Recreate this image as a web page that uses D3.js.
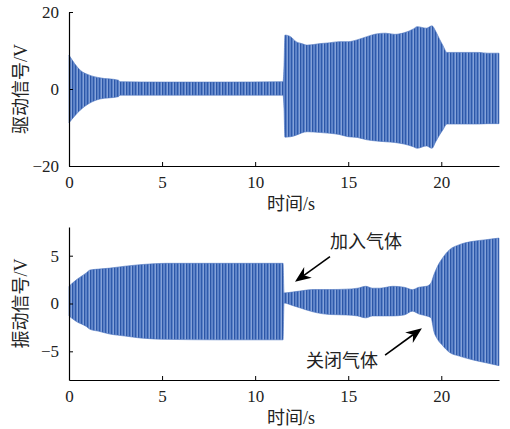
<!DOCTYPE html>
<html>
<head>
<meta charset="utf-8">
<script src="https://cdn.jsdelivr.net/npm/d3@7/dist/d3.min.js"></script>
<style>
  html, body { margin: 0; padding: 0; background: #fff; }
  svg { display: block; }
</style>
</head>
<body>
<svg id="chart" width="510" height="429"></svg>
<script>
// Envelope of the drive signal (upper / lower peak voltage over time)
const driveTime  = [0, 0.6, 1.1, 1.66, 2.65, 2.75, 5, 8, 11.5, 11.55, 11.6, 11.9, 12.2, 12.5, 12.8, 13.5, 14.0, 14.5, 15.0, 15.5, 16.0, 16.5, 17.0, 17.5, 18.0, 18.5, 18.7, 19.2, 19.5, 19.7, 19.9, 20.1, 20.3, 21.0, 22.0, 22.5, 23.1];
const driveUpper = [8.8, 4.9, 3.6, 2.9, 2.3, 1.9, 1.8, 1.8, 1.9, 6.0, 14.0, 13.6, 12.3, 11.8, 11.4, 11.8, 12.0, 12.3, 12.3, 12.8, 13.6, 14.3, 14.5, 14.2, 14.6, 15.6, 16.2, 15.8, 16.4, 15.0, 13.0, 11.2, 9.5, 9.5, 9.5, 9.3, 9.3];
const driveLower = [-8.8, -5.5, -3.7, -2.6, -2.0, -1.6, -1.6, -1.6, -1.6, -5.0, -12.5, -12.4, -12.0, -11.4, -11.1, -11.3, -11.5, -11.8, -12.4, -12.6, -13.2, -13.5, -13.7, -13.9, -14.3, -15.0, -15.4, -14.8, -15.4, -13.7, -12.0, -10.5, -9.1, -9.1, -9.1, -9.0, -9.0];

// Envelope of the vibration signal
const vibTime  = [0, 0.41, 0.93, 1.13, 1.6, 2.2, 3.0, 3.8, 4.5, 5.2, 8, 11.5, 11.55, 12.0, 12.4, 13.1, 14.0, 14.9, 15.5, 15.95, 16.3, 16.7, 17.4, 18.0, 18.45, 18.8, 19.2, 19.45, 19.6, 19.8, 20.07, 20.43, 20.97, 21.7, 22.4, 23.1];
const vibUpper = [1.8, 2.5, 3.2, 3.5, 3.6, 3.7, 3.9, 4.06, 4.15, 4.2, 4.2, 4.2, 1.1, 1.2, 1.3, 1.46, 1.46, 1.5, 1.6, 1.8, 1.6, 1.6, 1.8, 1.7, 1.45, 1.7, 1.8, 2.15, 3.0, 3.9, 4.76, 5.6, 6.15, 6.5, 6.67, 6.84];
const vibLower = [-1.3, -1.9, -2.4, -2.7, -2.9, -3.2, -3.4, -3.6, -3.7, -3.75, -3.8, -3.8, 0.05, -0.2, -0.45, -0.87, -1.15, -1.2, -1.3, -1.5, -1.3, -1.3, -1.3, -1.2, -0.8, -1.1, -1.3, -1.5, -2.9, -3.75, -4.4, -5.1, -5.5, -5.9, -6.2, -6.5];

// Axis ticks and labels
const xTicks = [0, 5, 10, 15, 20];
const driveTicks = [-20, 0, 20];
const vibTicks = [-5, 0, 5];
const xLabel = "时间/s";
const driveLabel = "驱动信号/V";
const vibLabel = "振动信号/V";

// Annotations on the vibration panel (data coordinates)
const notes = [
  { text: "加入气体", tx: 14.02, ty: 6.38, from: [14.02, 4.9], to: [12.14, 2.28] },
  { text: "关闭气体", tx: 12.73, ty: -6.01, from: [16.98, -5.39], to: [18.96, -2.59] }
];

const svg = d3.select("#chart");
const latin = "'Liberation Serif', 'Times New Roman', serif";
const mixed = "'Liberation Serif', 'Noto Sans CJK SC', serif";

// striped fill that mimics the dense oscillation
const defs = svg.append("defs");
const pat = defs.append("pattern")
  .attr("id", "osc")
  .attr("patternUnits", "userSpaceOnUse")
  .attr("width", 6).attr("height", 8);
pat.append("rect").attr("width", 6).attr("height", 8).attr("fill", "#5F85CA");
pat.append("rect").attr("x", 0).attr("width", 1.1).attr("height", 8).attr("fill", "#2B56A7");
pat.append("rect").attr("x", 3).attr("width", 1.1).attr("height", 8).attr("fill", "#2F5AAB");
pat.append("rect").attr("x", 5).attr("width", 0.6).attr("height", 8).attr("fill", "#9FB6E2");

const x = d3.scaleLinear().domain([0, 23.1]).range([69, 499]);

function panel(opts) {
  const y = d3.scaleLinear().domain(opts.domain).range(opts.range);
  const g = svg.append("g");
  const rows = opts.t.map((t, i) => ({ t, hi: opts.hi[i], lo: opts.lo[i] }));

  const area = d3.area()
    .curve(d3.curveMonotoneX)
    .x(d => x(d.t))
    .y0(d => y(d.lo))
    .y1(d => y(d.hi));
  g.append("path")
    .datum(rows)
    .attr("d", area)
    .attr("fill", "url(#osc)")
    .attr("stroke", "#4A72BE")
    .attr("stroke-width", 0.6);

  const xAxis = d3.axisBottom(x).tickValues(xTicks).tickSizeInner(-4).tickSizeOuter(0).tickPadding(10);
  const gx = g.append("g").attr("transform", `translate(0,${opts.range[0]})`).call(xAxis);
  const yAxis = d3.axisLeft(y).tickValues(opts.ticks).tickSizeInner(-4).tickSizeOuter(0).tickPadding(10)
    .tickFormat(d => d < 0 ? "\u2212" + Math.abs(d) : d);
  const gy = g.append("g").attr("transform", `translate(${x(0)},0)`).call(yAxis);

  [gx, gy].forEach(a => {
    a.select(".domain").attr("stroke", "#000").attr("stroke-width", 1.2);
    a.selectAll(".tick line").attr("stroke", "#000").attr("stroke-width", 1);
    a.selectAll(".tick text").attr("font-family", latin).attr("font-size", 17).attr("fill", "#222");
  });

  g.append("text")
    .attr("x", 291).attr("y", opts.range[0] + 38)
    .attr("text-anchor", "middle").attr("dominant-baseline", "central")
    .attr("font-family", mixed).attr("font-size", 18).attr("fill", "#222")
    .text(xLabel);

  g.append("text")
    .attr("transform", `translate(21,${y(0)}) rotate(-90)`)
    .attr("text-anchor", "middle").attr("dominant-baseline", "central")
    .attr("font-family", mixed).attr("font-size", 18).attr("fill", "#222")
    .text(opts.label);
  return y;
}

panel({ t: driveTime, hi: driveUpper, lo: driveLower, domain: [-20, 20], range: [166, 12], ticks: driveTicks, label: driveLabel });
const yv = panel({ t: vibTime, hi: vibUpper, lo: vibLower, domain: [-8, 8], range: [380, 227], ticks: vibTicks, label: vibLabel });

// annotation arrows and captions
notes.forEach(n => {
  const x0 = x(n.from[0]), y0 = yv(n.from[1]);
  const x1 = x(n.to[0]), y1 = yv(n.to[1]);
  const ang = Math.atan2(y1 - y0, x1 - x0);
  const L = 16, W = 6.5, notch = 11;
  const bx = x1 - L * Math.cos(ang), by = y1 - L * Math.sin(ang);
  const nx = x1 - notch * Math.cos(ang), ny = y1 - notch * Math.sin(ang);
  const px = -Math.sin(ang), py = Math.cos(ang);
  svg.append("line")
    .attr("x1", x0).attr("y1", y0).attr("x2", nx).attr("y2", ny)
    .attr("stroke", "#000").attr("stroke-width", 1.6);
  svg.append("path")
    .attr("d", `M${x1},${y1} L${bx + W * px},${by + W * py} L${nx},${ny} L${bx - W * px},${by - W * py} Z`)
    .attr("fill", "#000");
  svg.append("text")
    .attr("x", x(n.tx)).attr("y", yv(n.ty))
    .attr("dominant-baseline", "central")
    .attr("font-family", mixed).attr("font-size", 18).attr("fill", "#222")
    .text(n.text);
});
</script>
</body>
</html>
